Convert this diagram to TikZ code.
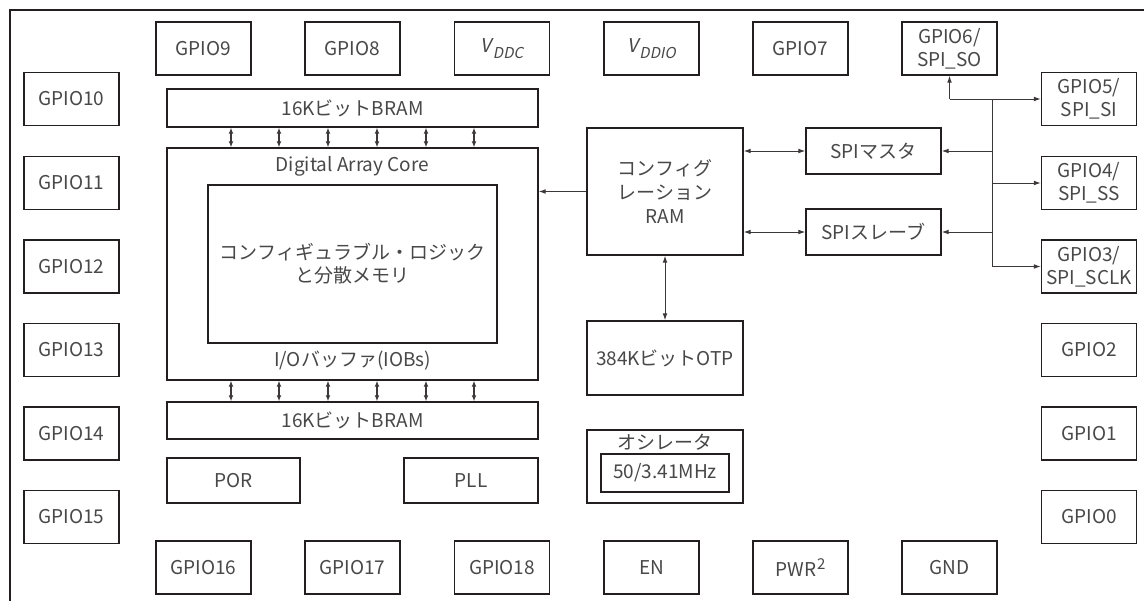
\documentclass[tikz,border=0pt]{standalone}
\usepackage{fontspec}
\setmainfont{Noto Sans CJK JP}
\newfontfamily\itfont[FakeSlant=0.2]{Noto Sans CJK JP}
\usepackage{xcolor}
\definecolor{chipline}{RGB}{35,31,32}
\definecolor{chiptext}{RGB}{72,72,72}
\definecolor{chipwire}{RGB}{60,56,56}
\usetikzlibrary{arrows.meta,positioning,calc}

\begin{document}
\begin{tikzpicture}[x=0.5pt,y=-0.5pt,
  font=\fontsize{9.5}{11.5}\selectfont,text=chiptext,
  blk/.style={draw=chipline,line width=0.7pt,inner sep=0pt,align=center},
  pin/.style={blk,minimum width=47.5pt,minimum height=26.5pt},
  wire/.style={draw=chipwire,line width=0.5pt,-{Latex[length=3.5pt,width=2.4pt]}},
  biwire/.style={wire,{Latex[length=3.5pt,width=2.4pt]}-{Latex[length=3.5pt,width=2.4pt]}},
  tick/.style={draw=chipwire,line width=0.55pt,{Latex[length=3pt,width=2.4pt]}-{Latex[length=3pt,width=2.4pt]}}]
  % Page and outer frame
  \useasboundingbox[fill=white] (0,0) rectangle (1144,600);
  \clip (0,0) rectangle (1144,600);
  \draw[chipline,line width=0.7pt] (10,10) rectangle (1170,630);
  % Top pins
  \node[pin] (gpio9)  at (203.5,48.5) {GPIO9};
  \node[pin] (gpio8)  at (352.5,48.5) {GPIO8};
  \node[pin] (vddc)   at (502,48.5)
    {\itfont V\kern0.6pt\raisebox{-0.3em}{\fontsize{7.5}{8}\selectfont DDC}};
  \node[pin] (vddio)  at (651.5,48.5)
    {\itfont V\kern0.6pt\raisebox{-0.3em}{\fontsize{7.5}{8}\selectfont DDIO}};
  \node[pin] (gpio7)  at (800.5,48.5) {GPIO7};
  \node[pin] (gpio6)  at (949.5,48.5) {GPIO6/\\SPI\_SO};
  % Left pins
  \node[pin] (gpio10) at (71.5,99)    {GPIO10};
  \node[pin] (gpio11) at (71.5,183)   {GPIO11};
  \node[pin] (gpio12) at (71.5,266.5) {GPIO12};
  \node[pin] (gpio13) at (71.5,350)   {GPIO13};
  \node[pin] (gpio14) at (71.5,433.5) {GPIO14};
  \node[pin] (gpio15) at (71.5,517)   {GPIO15};
  % Right pins
  \node[pin] (gpio5)  at (1089,99)    {GPIO5/\\SPI\_SI};
  \node[pin] (gpio4)  at (1089,183)   {GPIO4/\\SPI\_SS};
  \node[pin] (gpio3)  at (1089,266.5) {GPIO3/\\SPI\_SCLK};
  \node[pin] (gpio2)  at (1089,350)   {GPIO2};
  \node[pin] (gpio1)  at (1089,433.5) {GPIO1};
  \node[pin] (gpio0)  at (1089,517)   {GPIO0};
  % Bottom pins
  \node[pin] (gpio16) at (203.5,567.5) {GPIO16};
  \node[pin] (gpio17) at (352.5,567.5) {GPIO17};
  \node[pin] (gpio18) at (502,567.5)   {GPIO18};
  \node[pin] (en)     at (651.5,567.5) {EN};
  \node[pin] (pwr)    at (800.5,567.5)
    {PWR\kern0.5pt\raisebox{0.35em}{\fontsize{7.5}{8}\selectfont 2}};
  \node[pin] (gnd)    at (949.5,567.5) {GND};
  % Logic array with its BRAMs
  \node[blk,minimum width=185.5pt,minimum height=19pt] (bramT) at (352.5,108) {16KビットBRAM};
  \node[blk,minimum width=185.5pt,minimum height=116pt] (core) at (352.5,264) {};
  \node[blk,minimum width=144.5pt,minimum height=79pt] (logic) at (352.5,264)
    {コンフィギュラブル・ロジック\\と分散メモリ};
  \node (coretitle) at (352.5,166) {Digital Array Core};
  \node (iob) at (352.5,361) {I/Oバッファ(IOBs)};
  \node[blk,minimum width=185.5pt,minimum height=18.5pt] (bramB) at (352.5,420.5) {16KビットBRAM};
  \foreach \x in {231,279,328,377,426,474} {
    \draw[tick] (bramT.south -| \x,0) -- (core.north -| \x,0);
    \draw[tick] (core.south -| \x,0) -- (bramB.north -| \x,0);
  }
  \node[blk,minimum width=66.5pt,minimum height=22.5pt] (por) at (233.5,480.5) {POR};
  \node[blk,minimum width=67pt,minimum height=22.5pt] (pll) at (471,480.5) {PLL};
  % Configuration blocks
  \node[blk,minimum width=78pt,minimum height=63.5pt,font=\fontsize{9.5}{12}\selectfont]
    (cfgram) at (665,191.5) {コンフィグ\\レーション\\RAM};
  \node[blk,minimum width=78pt,minimum height=37pt] (otp) at (665,358) {384KビットOTP};
  \node[blk,minimum width=78pt,minimum height=36.5pt] (osc) at (665,466.5) {};
  \node[blk,minimum width=64pt,minimum height=19pt] (oscf) at (665,473) {50/3.41MHz};
  \node (osclabel) at (665,442) {オシレータ};
  \node[blk,minimum width=67.5pt,minimum height=23pt] (spim) at (873.5,151) {SPIマスタ};
  \node[blk,minimum width=67.5pt,minimum height=23pt] (spis) at (873.5,232) {SPIスレーブ};
  % Internal connections
  \draw[wire] (cfgram.west) -- (cfgram.west -| core.east);
  \draw[biwire] (cfgram.south) -- (otp.north);
  \draw[biwire] (cfgram.east |- spim.west) -- (spim.west);
  \draw[biwire] (cfgram.east |- spis.west) -- (spis.west);
  % SPI bus
  \coordinate (bus) at (992,0);
  \coordinate (so) at (gpio6.south |- gpio5.west);
  \draw[wire] (so) -- (gpio6.south);
  \draw[wire] (so) -- (gpio5.west);
  \draw[chipwire,line width=0.5pt] (bus |- gpio5.west) -- (bus |- gpio3.west);
  \draw[wire] (bus |- spim.east) -- (spim.east);
  \draw[wire] (bus |- gpio4.west) -- (gpio4.west);
  \draw[wire] (bus |- spis.east) -- (spis.east);
  \draw[wire] (bus |- gpio3.west) -- (gpio3.west);
\end{tikzpicture}
\end{document}
